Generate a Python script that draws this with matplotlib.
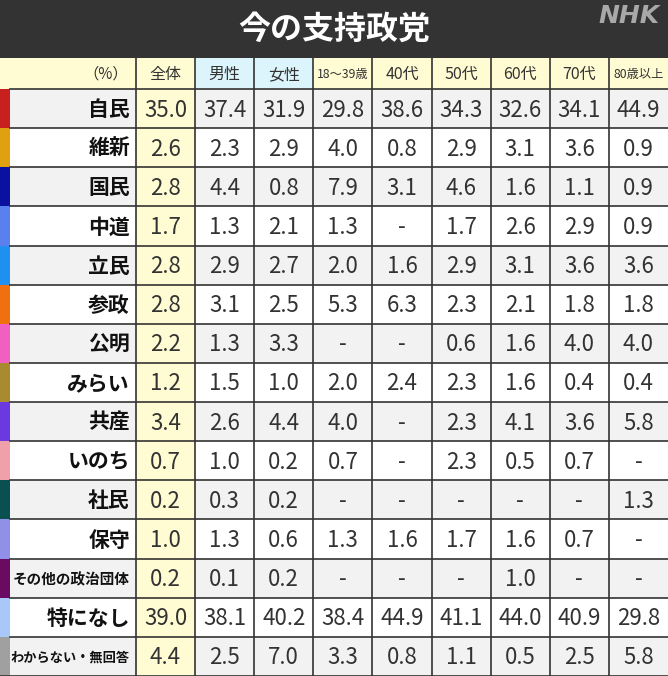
import matplotlib
matplotlib.use("Agg")
import matplotlib.pyplot as plt
from matplotlib.patches import Rectangle

plt.rcParams['font.family'] = ['Noto Sans CJK JP', 'DejaVu Sans']

# データ
title = "今の支持政党"
parties = ["自民", "維新", "国民", "中道", "立民", "参政", "公明", "みらい", "共産",
           "いのち", "社民", "保守", "その他の政治団体", "特になし", "わからない・無回答"]
party_colors = ["#c8201f", "#e0a010", "#0a10a0", "#5a80f0", "#2090f0", "#f07010",
                "#f060c0", "#a88a30", "#6a3ae0", "#f0a0a8", "#0a5050", "#9090e8",
                "#6a0a60", "#a8c8f8", "#a0a0a0"]
columns = ["全体", "男性", "女性", "18〜39歳", "40代", "50代", "60代", "70代", "80歳以上"]

zentai = [35.0, 2.6, 2.8, 1.7, 2.8, 2.8, 2.2, 1.2, 3.4, 0.7, 0.2, 1.0, 0.2, 39.0, 4.4]
dansei = [37.4, 2.3, 4.4, 1.3, 2.9, 3.1, 1.3, 1.5, 2.6, 1.0, 0.3, 1.3, 0.1, 38.1, 2.5]
josei = [31.9, 2.9, 0.8, 2.1, 2.7, 2.5, 3.3, 1.0, 4.4, 0.2, 0.2, 0.6, 0.2, 40.2, 7.0]
age18_39 = [29.8, 4.0, 7.9, 1.3, 2.0, 5.3, None, 2.0, 4.0, 0.7, None, 1.3, None, 38.4, 3.3]
age40 = [38.6, 0.8, 3.1, None, 1.6, 6.3, None, 2.4, None, None, None, 1.6, None, 44.9, 0.8]
age50 = [34.3, 2.9, 4.6, 1.7, 2.9, 2.3, 0.6, 2.3, 2.3, 2.3, None, 1.7, None, 41.1, 1.1]
age60 = [32.6, 3.1, 1.6, 2.6, 3.1, 2.1, 1.6, 1.6, 4.1, 0.5, None, 1.6, 1.0, 44.0, 0.5]
age70 = [34.1, 3.6, 1.1, 2.9, 3.6, 1.8, 4.0, 0.4, 3.6, 0.7, None, 0.7, None, 40.9, 2.5]
age80 = [44.9, 0.9, 0.9, 0.9, 3.6, 1.8, 4.0, 0.4, 5.8, None, 1.3, None, None, 29.8, 5.8]
values = [zentai, dansei, josei, age18_39, age40, age50, age60, age70, age80]

# レイアウト (ピクセル)
W, H = 668, 676
title_h = 58
head_h = 31
row_h = (H - title_h - head_h) / len(parties)
label_w = 136
col_w = (W - label_w) / len(columns)
strip_w = 10

fig = plt.figure(figsize=(W / 100, H / 100), dpi=100)
ax = fig.add_axes([0, 0, 1, 1])
ax.set_xlim(0, W)
ax.set_ylim(H, 0)
ax.axis("off")

line_c = "#333333"
text_c = "#333333"
yellow = "#fffbd2"
cyan = "#dcf4fb"
gray = "#f2f2f2"

# タイトル
ax.add_patch(Rectangle((0, 0), W, title_h, color="#333333", lw=0))
ax.text(W / 2, title_h / 2 + 1, title, color="white", fontsize=23, fontweight="bold",
        ha="center", va="center")
ax.text(W - 8, 16, "NHK", color="#a8a8a8", fontsize=18, fontweight="heavy",
        fontstyle="italic", family="DejaVu Sans", ha="right", va="center")

# ヘッダー
y0 = title_h
ax.add_patch(Rectangle((0, y0), label_w, head_h, color=yellow, lw=0))
ax.text(label_w - 8, y0 + head_h / 2 + 1, "（%）", fontsize=11, color=text_c,
        ha="right", va="center")
for j, name in enumerate(columns):
    x = label_w + j * col_w
    bg = cyan if name in ("男性", "女性") else yellow
    ax.add_patch(Rectangle((x, y0), col_w, head_h, color=bg, lw=0))
    fs = 8.8 if len(name) > 3 else 11.5
    ax.text(x + col_w / 2, y0 + head_h / 2 + 1, name, fontsize=fs, color=text_c,
            ha="center", va="center")

# 本体
small_fs = {"その他の政治団体": 10.5, "わからない・無回答": 9.5}
for i, party in enumerate(parties):
    y = title_h + head_h + i * row_h
    bg = gray if i % 2 == 0 else "white"
    ax.add_patch(Rectangle((0, y), label_w, row_h, color=bg, lw=0))
    ax.add_patch(Rectangle((0, y), strip_w, row_h, color=party_colors[i], lw=0))
    fs = small_fs.get(party, 15)
    ax.text(label_w - 6, y + row_h / 2 + 1, party, fontsize=fs, fontweight="bold",
            color="#111111", ha="right", va="center")
    for j in range(len(columns)):
        x = label_w + j * col_w
        cbg = yellow if j == 0 else bg
        ax.add_patch(Rectangle((x, y), col_w, row_h, color=cbg, lw=0))
        v = values[j][i]
        s = "-" if v is None else f"{v:.1f}"
        ax.text(x + col_w / 2, y + row_h / 2 + 1.5, s, fontsize=16, color=text_c,
                ha="center", va="center")

# 罫線
top = title_h
for i in range(len(parties) + 1):
    y = title_h + head_h + i * row_h
    ax.plot([strip_w if i < len(parties) else 0, W], [y, y], color=line_c, lw=1.2)
for j in range(len(columns)):
    x = label_w + j * col_w
    ax.plot([x, x], [top, H], color=line_c, lw=1.2)

fig.savefig("out.png", dpi=100)
